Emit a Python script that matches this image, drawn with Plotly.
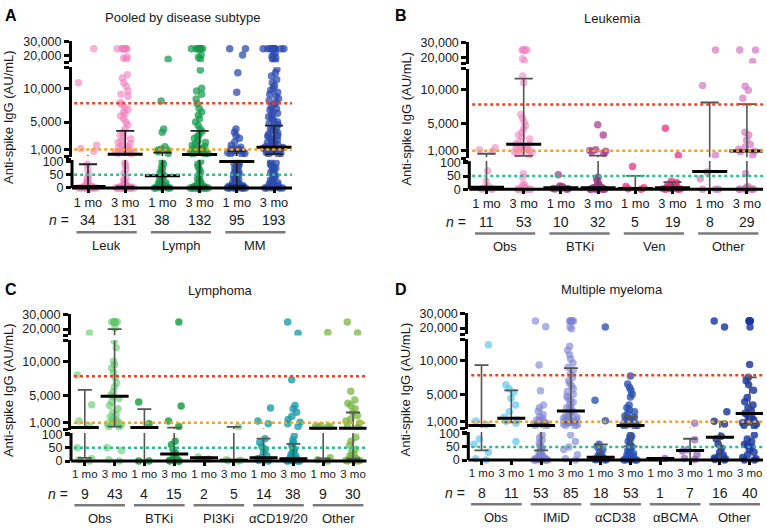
import plotly.graph_objects as go

W, H = 767, 529
FONT = "Liberation Sans, Arial, sans-serif"

# ---------------- Panel A: pooled by disease subtype ----------------
A_ticks = ["1 mo", "3 mo", "1 mo", "3 mo", "1 mo", "3 mo"]
A_n = [34, 131, 38, 132, 95, 193]
A_groups = ["Leuk", "Lymph", "MM"]
A_leuk_1 = [25000, 10800, 1600, 1100, 700, 90, 70, 50, 40, 30, 25, 20, 15, 10, 10, 8, 6, 5, 5, 4, 3, 3, 2, 2, 1, 1, 0, 0, 0, 0, 0, 0, 0, 0]
A_leuk_3 = [25000, 25000, 25000, 25000, 25000, 25000, 25000, 19300, 18500, 17700, 12000, 11500, 10800, 10300, 9600, 9100,
            8800, 7900, 7600, 7200, 6900, 6500, 6200, 5900, 5500, 5000, 4600, 4000, 3500, 3100, 2800, 2500, 2200, 2000,
            1800, 1600, 1400, 1200, 1100, 1000, 900, 800, 700, 600, 500, 400, 300, 95, 85, 70, 55, 40, 30, 25, 20, 15,
            12, 10, 8, 7, 6, 5, 5, 4, 4, 3, 3, 2, 2, 1, 1, 1, 0, 0, 0, 0, 0, 0, 0, 0, 0, 0]
A_lymph_1 = [17700, 8100, 4000, 3500, 1350, 1000, 900, 850, 620, 400, 100, 90, 80, 70, 60, 55, 50, 45, 40, 35, 30, 25,
             20, 18, 15, 12, 10, 8, 6, 5, 4, 3, 2, 1, 0, 0, 0, 0]
A_lymph_3 = [25000, 25000, 25000, 25000, 25000, 25000, 25000, 25000, 20700, 19000, 17700, 12700, 10000, 9600, 9100, 8400,
             7700, 7000, 6500, 6000, 5500, 5000, 4500, 4000, 3600, 3200, 2900, 2600, 2300, 2000, 1800, 1600, 1400, 1200,
             1100, 1000, 950, 900, 800, 700, 600, 500, 400, 300, 200, 100, 90, 80, 70, 60, 50, 40, 35, 30, 25, 20, 15,
             12, 10, 8, 6, 5, 4, 3, 2, 1, 0, 0, 0, 0, 0, 0, 0, 0, 0, 0]
A_mm_1 = [25000, 25000, 20700, 12300, 9400, 4000, 3500, 3000, 2600, 2100, 1600, 1300, 1100, 1000, 950, 900, 850, 800,
          700, 600, 500, 400, 300, 200, 100, 95, 90, 85, 80, 75, 70, 65, 60, 55, 50, 45, 40, 35, 30, 28, 25, 22, 20,
          18, 15, 12, 10, 10, 8, 8, 6, 5, 5, 4, 3, 2, 2, 1, 1, 0, 0, 0, 0, 0, 0]
A_mm_3 = [25000, 25000, 25000, 25000, 25000, 25000, 25000, 25000, 25000, 25000, 22000, 20700, 19500, 18500, 17500, 16500,
          12800, 12300, 11800, 11300, 10800, 10400, 10000, 9700, 9400, 9100, 8800, 8500, 8200, 7900, 7600, 7300, 7000,
          6800, 6500, 6300, 6000, 5800, 5500, 5300, 5000, 4800, 4600, 4400, 4200, 4000, 3800, 3600, 3400, 3200, 3000,
          2900, 2700, 2600, 2400, 2300, 2200, 2000, 1900, 1800, 1700, 1600, 1500, 1400, 1300, 1250, 1200, 1150, 1100,
          1050, 1000, 950, 900, 850, 800, 700, 600, 500, 400, 300, 200, 100, 95, 90, 85, 80, 75, 70, 65, 60, 55, 50,
          45, 40, 35, 30, 25, 20, 18, 15, 12, 10, 8, 6, 5, 4, 3, 2, 1, 0, 0, 0, 0]
A_colors = ["rgba(240,125,190,0.6)", "rgba(240,125,190,0.6)", "rgba(20,155,75,0.72)", "rgba(20,155,75,0.72)",
            "rgba(45,75,175,0.75)", "rgba(45,75,175,0.75)"]
A_median = [5, 273, 46, 230, 100, 1290]
A_q1 = [0, 5, 5, 5, 9, 273]
A_q3 = [90, 3720, 480, 3720, 710, 4490]

# ---------------- Panel B: leukemia ----------------
B_ticks = ["1 mo", "3 mo", "1 mo", "3 mo", "1 mo", "3 mo", "1 mo", "3 mo"]
B_n = [11, 53, 10, 32, 5, 19, 8, 29]
B_groups = ["Obs", "BTKi", "Ven", "Other"]
B_obs_1 = [1400, 1100, 900, 70, 30, 10, 5, 3, 2, 0, 0]
B_obs_3 = [25000, 25000, 25000, 25000, 25000, 25000, 19000, 17500, 12000, 11000, 6300, 5800, 5200, 4700, 4200, 3700,
           3300, 3000, 2700, 2300, 2000, 1900, 1700, 1500, 1400, 1300, 1200, 1100, 1000, 900, 800, 700, 500, 300, 60,
           45, 20, 15, 10, 8, 6, 5, 4, 3, 2, 1, 1, 0, 0, 0, 0, 0, 0]
B_btki_1 = [55, 12, 10, 8, 5, 4, 3, 2, 1, 0]
B_btki_3 = [4800, 3300, 1100, 1000, 900, 800, 600, 45, 40, 30, 20, 15, 12, 10, 8, 7, 6, 5, 5, 4, 4, 3, 3, 2, 2, 1, 1,
            0, 0, 0, 0, 0]
B_ven_1 = [86, 10, 5, 2, 0]
B_ven_3 = [4300, 250, 30, 25, 20, 15, 12, 10, 8, 6, 5, 5, 4, 3, 2, 2, 1, 0, 0]
B_other_1 = [25000, 10600, 300, 65, 40, 0, 0, 0]
B_other_3 = [25000, 25000, 17000, 10500, 9900, 8700, 3700, 3300, 2500, 1900, 1500, 1200, 900, 800, 300, 60, 10, 5, 4,
             3, 2, 2, 1, 1, 0, 0, 0, 0, 0]
B_colors = ["rgba(240,135,195,0.6)", "rgba(240,135,195,0.6)", "rgba(165,55,145,0.72)", "rgba(165,55,145,0.72)",
            "rgba(235,40,125,0.72)", "rgba(235,40,125,0.72)", "rgba(210,115,190,0.68)", "rgba(210,115,190,0.68)"]
B_median = [7, 1930, 5, 5, 3, 5, 67, 910]
B_q1 = [0, 190, 2, 0, 0, 0, 0, 0]
B_q3 = [520, 11600, 10, 230, 51, 27, 8080, 7830]

# ---------------- Panel C: lymphoma ----------------
C_ticks = ["1 mo", "3 mo", "1 mo", "3 mo", "1 mo", "3 mo", "1 mo", "3 mo", "1 mo", "3 mo"]
C_n = [9, 43, 4, 15, 2, 5, 14, 38, 9, 30]
C_groups = ["Obs", "BTKi", "PI3Ki", "αCD19/20", "Other"]
C_obs_1 = [17200, 8000, 3600, 1200, 500, 50, 10, 5, 0]
C_obs_3 = [25000, 25000, 25000, 25000, 25000, 25000, 25000, 25000, 20700, 13000, 12000, 10000, 9500, 9000, 8400, 7600,
           6800, 6200, 5500, 5000, 4800, 4500, 4000, 3500, 3000, 2500, 2100, 1800, 1500, 1300, 1100, 1000, 900, 800,
           600, 400, 300, 50, 40, 5, 0]
C_btki_1 = [4000, 800, 0, 0]
C_btki_3 = [25000, 3400, 1200, 400, 75, 62, 45, 30, 20, 10, 5, 3, 0, 0, 0]
C_pi3k_1 = [15, 8]
C_pi3k_3 = [330, 5, 3, 1, 0]
C_cd_1 = [3100, 1200, 800, 85, 70, 55, 45, 35, 20, 15, 10, 5, 2, 0]
C_cd_3 = [25000, 17000, 7300, 3500, 3000, 2500, 1900, 1400, 1000, 800, 400, 95, 80, 70, 60, 50, 45, 40, 35, 30, 25, 20,
          18, 15, 12, 10, 8, 6, 5, 4, 3, 2, 2, 1, 1, 0, 0, 0]
C_other_1 = [17500, 500, 450, 400, 350, 300, 12, 5, 0]
C_other_3 = [25000, 17200, 5600, 4300, 3800, 3500, 3000, 2500, 2000, 1500, 1200, 900, 500, 250, 90, 75, 60, 45, 35, 25,
             20, 15, 12, 10, 8, 5, 3, 2, 0, 0]
C_colors = ["rgba(95,200,105,0.6)", "rgba(95,200,105,0.6)", "rgba(20,160,60,0.82)", "rgba(20,160,60,0.82)",
            "rgba(120,200,105,0.65)", "rgba(120,200,105,0.65)", "rgba(20,155,165,0.78)", "rgba(20,155,165,0.78)",
            "rgba(115,180,60,0.72)", "rgba(115,180,60,0.72)"]
C_median = [230, 4840, 230, 27, 12, 3, 12, 9, 130, 130]
C_q1 = [12, 375, 0, 0, 8, 0, 0, 0, 10, 9]
C_q3 = [5800, 20000, 2950, 230, 15, 330, 85, 65, 130, 2450]

# ---------------- Panel D: multiple myeloma ----------------
D_ticks = ["1 mo", "3 mo", "1 mo", "3 mo", "1 mo", "3 mo", "1 mo", "3 mo", "1 mo", "3 mo"]
D_n = [8, 11, 53, 85, 18, 53, 1, 7, 16, 40]
D_groups = ["Obs", "IMiD", "αCD38", "αBCMA", "Other"]
D_obs_1 = [12300, 1050, 500, 80, 60, 30, 5, 0]
D_obs_3 = [6400, 5800, 5300, 4400, 3400, 2400, 1600, 1200, 1000, 700, 70]
D_imid_1 = [25000, 21000, 9300, 5500, 3400, 3000, 2500, 2000, 1700, 1400, 1200, 1100, 1000, 900, 800, 700, 600, 500,
            400, 300, 95, 85, 75, 65, 55, 50, 45, 40, 35, 30, 25, 20, 18, 15, 12, 10, 10, 8, 8, 6, 5, 5, 4, 3, 3, 2,
            2, 1, 1, 0, 0, 0, 0]
D_imid_3 = [25000, 25000, 25000, 25000, 25000, 25000, 20700, 19500, 12100, 11500, 10800, 10200, 9600, 9000, 8500, 8000,
            7500, 7000, 6600, 6200, 5800, 5400, 5000, 4700, 4400, 4100, 3800, 3500, 3200, 3000, 2800, 2600, 2400, 2200,
            2000, 1800, 1700, 1600, 1500, 1400, 1300, 1200, 1100, 1000, 950, 900, 850, 800, 700, 600, 500, 400, 300,
            95, 70, 50, 40, 20, 5, 0]
D_cd38_1 = [20700, 4100, 1100, 60, 50, 40, 30, 20, 15, 12, 10, 8, 5, 4, 3, 2, 1, 0]
D_cd38_3 = [7700, 6500, 6000, 5600, 5000, 4600, 3400, 3000, 2700, 2400, 2100, 1800, 1600, 1400, 1200, 1100, 1000, 900,
            800, 700, 600, 500, 400, 300, 200, 95, 90, 85, 80, 70, 60, 55, 50, 45, 40, 35, 30, 25, 20, 18, 15, 12, 10,
            8, 6, 5, 4, 3, 2, 1, 0, 0, 0]
D_bcma_1 = [6]
D_bcma_3 = [700, 77, 40, 34, 20, 6, 2]
D_other_1 = [25000, 20700, 2400, 1000, 600, 90, 80, 60, 45, 30, 20, 12, 8, 5, 2, 0]
D_other_3 = [25000, 25000, 25000, 25000, 25000, 25000, 20700, 9400, 7500, 7000, 6400, 5600, 4500, 3900, 3400, 3000,
             2600, 2200, 1900, 1600, 1400, 1200, 1000, 800, 600, 400, 300, 95, 80, 70, 60, 55, 50, 40, 30, 20, 10, 5,
             0, 0]
D_colors = ["rgba(95,200,240,0.7)", "rgba(95,200,240,0.7)", "rgba(125,130,210,0.62)", "rgba(125,130,210,0.62)",
            "rgba(40,80,180,0.78)", "rgba(40,80,180,0.78)", "rgba(135,85,185,0.68)", "rgba(135,85,185,0.68)",
            "rgba(25,55,160,0.82)", "rgba(25,55,160,0.82)"]
D_median = [375, 1440, 375, 2510, 11, 375, 6, 36, 87, 2170]
D_q1 = [37, 860, 37, 860, 0, 52, 6, 2, 2, 480]
D_q3 = [9290, 5560, 710, 8850, 59, 1680, 6, 81, 960, 7500]

# reference thresholds
THRESH_RED = 7790
THRESH_ORANGE = 950
THRESH_GREEN = 50

# ---------------- geometry (pixels) ----------------
panels = [
    dict(letter="A", title="Pooled by disease subtype", xl=72, xr=292, c0=88, dx=37.2, base=184.7, lx=3, ly=10,
         tx=182, ticks=A_ticks, n=A_n, groups=A_groups, colors=A_colors, med=A_median, q1=A_q1, q3=A_q3,
         values=[A_leuk_1, A_leuk_3, A_lymph_1, A_lymph_3, A_mm_1, A_mm_3], tfs=12.8, err="#222222"),
    dict(letter="B", title="Leukemia", xl=469.3, xr=763, c0=486.5, dx=37.2, base=186, lx=393, ly=10,
         tx=612, ticks=B_ticks, n=B_n, groups=B_groups, colors=B_colors, med=B_median, q1=B_q1, q3=B_q3,
         values=[B_obs_1, B_obs_3, B_btki_1, B_btki_3, B_ven_1, B_ven_3, B_other_1, B_other_3], tfs=12.8,
         err="#555555"),
    dict(letter="C", title="Lymphoma", xl=71, xr=366.5, c0=84.8, dx=29.8, base=462, lx=3, ly=288,
         tx=220, ticks=C_ticks, n=C_n, groups=C_groups, colors=C_colors, med=C_median, q1=C_q1, q3=C_q3,
         values=[C_obs_1, C_obs_3, C_btki_1, C_btki_3, C_pi3k_1, C_pi3k_3, C_cd_1, C_cd_3, C_other_1, C_other_3],
         tfs=11.5, err="#555555"),
    dict(letter="D", title="Multiple myeloma", xl=468.3, xr=763, c0=481.5, dx=29.8, base=461, lx=393, ly=288,
         tx=612, ticks=D_ticks, n=D_n, groups=D_groups, colors=D_colors, med=D_median, q1=D_q1, q3=D_q3,
         values=[D_obs_1, D_obs_3, D_imid_1, D_imid_3, D_cd38_1, D_cd38_3, D_bcma_1, D_bcma_3, D_other_1, D_other_3],
         tfs=11.5, err="#555555"),
]

# broken-axis segments: (h_bottom, h_top, ref value, ref height, px per unit) in px above baseline
SEGS = [(-5, 28.5, 0, 0, 0.267), (31.5, 122.5, 1000, 39.3, 0.006878), (127.5, 149, 20000, 134, 0.00145)]


def seg_range(s):
    h0, h1, vref, href, k = SEGS[s]
    return [vref + (h0 - href) / k, vref + (h1 - href) / k]


RANGES = [seg_range(s) for s in range(3)]


def seg_of(v):
    if v <= 104:
        return 0
    if v <= 14000:
        return 1
    return 2


fig = go.Figure()
layout = dict(width=W, height=H, margin=dict(l=0, r=0, t=0, b=0), autosize=False, paper_bgcolor="white",
              plot_bgcolor="white", showlegend=False, boxmode="overlay",
              font=dict(family=FONT, color="#1a1a1a", size=13))
shapes, annotations = [], []

for p, P in enumerate(panels):
    xname = "x" if p == 0 else f"x{p + 1}"
    xkey = "xaxis" if p == 0 else f"xaxis{p + 1}"
    base = P["base"]
    ncat = len(P["ticks"])
    ynames = []
    for s in range(3):
        idx = 3 * p + s + 1
        yname = "y" if idx == 1 else f"y{idx}"
        ykey = "yaxis" if idx == 1 else f"yaxis{idx}"
        ynames.append(yname)
        h0, h1 = SEGS[s][0], SEGS[s][1]
        lo, hi = RANGES[s]
        if s == 0:
            tv, tt = [0, 50, 100, hi - 0.3], ["0", "50", "100", ""]
        elif s == 1:
            tv, tt = [lo + 15, 1000, 5000, 10000, hi - 15], ["", "1,000", "5,000", "10,000", ""]
        else:
            tv, tt = [lo + 30, 20000, 30000], ["", "20,000", "30,000"]
        layout[ykey] = dict(domain=[1 - (base - h0) / H, 1 - (base - h1) / H], range=[lo, hi], anchor=xname,
                            showgrid=False, zeroline=False, showline=(s > 0), linewidth=3, linecolor="black",
                            ticks="outside", ticklen=5, tickwidth=2.5, tickcolor="black", tickvals=tv, ticktext=tt,
                            tickfont=dict(size=12.5, color="#1a1a1a"), fixedrange=True)
    layout[xkey] = dict(domain=[P["xl"] / W, P["xr"] / W],
                        range=[(P["xl"] - P["c0"]) / P["dx"], (P["xr"] - P["c0"]) / P["dx"]],
                        anchor=ynames[0], showgrid=False, zeroline=False, showline=False, ticks="inside",
                        ticklen=5, tickwidth=2.5, tickcolor="black", tickvals=list(range(ncat)),
                        ticktext=P["ticks"], tickfont=dict(size=P["tfs"], color="#1a1a1a"), fixedrange=True)

    # points, split by segment
    for i, vals in enumerate(P["values"]):
        for s in range(3):
            sv = [v for v in vals if seg_of(v) == s]
            if not sv:
                continue
            fig.add_trace(go.Box(x=[i] * len(sv), y=sv, xaxis=xname, yaxis=ynames[s], boxpoints="all", jitter=1,
                                 pointpos=0, width=0.6, fillcolor="rgba(0,0,0,0)",
                                 line=dict(width=0, color="rgba(0,0,0,0)"),
                                 marker=dict(color=P["colors"][i], size=7.5, line=dict(width=0)),
                                 showlegend=False, hoverinfo="y"))

    # medians and IQR
    wide = P["dx"] > 33
    for s in range(3):
        lo, hi = RANGES[s]
        if s == 0:
            lo = 0
        lx, ly, cx, cy, mx, my = [], [], [], [], [], []
        for i in range(ncat):
            a, b = P["q1"][i], P["q3"][i]
            if a < hi and b > lo and b > a:
                lx += [i, i, None]
                ly += [max(a, lo), min(b, hi), None]
            for q in (a, b):
                if seg_of(q) == s:
                    cx.append(i)
                    cy.append(q)
            if seg_of(P["med"][i]) == s:
                mx.append(i)
                my.append(P["med"][i])
        if lx:
            fig.add_trace(go.Scatter(x=lx, y=ly, mode="lines", xaxis=xname, yaxis=ynames[s],
                                     line=dict(color=P["err"], width=1.6), showlegend=False, hoverinfo="skip"))
        if cx:
            fig.add_trace(go.Scatter(x=cx, y=cy, mode="markers", xaxis=xname, yaxis=ynames[s],
                                     marker=dict(symbol="line-ew", size=13 if wide else 10,
                                                 line=dict(color=P["err"], width=1.8)),
                                     showlegend=False, hoverinfo="skip"))
        if mx:
            fig.add_trace(go.Scatter(x=mx, y=my, mode="markers", xaxis=xname, yaxis=ynames[s],
                                     marker=dict(symbol="line-ew", size=25 if wide else 20,
                                                 line=dict(color="black", width=3)),
                                     showlegend=False, hoverinfo="skip"))

    # axis line of bottom segment and baseline
    shapes.append(dict(type="line", xref=f"{xname} domain", x0=0, x1=0, yref=ynames[0], y0=0, y1=RANGES[0][1],
                       line=dict(color="black", width=3), layer="above"))
    shapes.append(dict(type="line", xref=f"{xname} domain", x0=0, x1=1, yref=ynames[0], y0=0, y1=0,
                       line=dict(color="black", width=3), layer="above"))
    # reference lines
    for val, col, s in ((THRESH_RED, "#ec4027", 1), (THRESH_ORANGE, "#f7a21b", 1), (THRESH_GREEN, "#2fbb8c", 0)):
        shapes.append(dict(type="line", xref=f"{xname} domain", x0=0.01, x1=1, yref=ynames[s], y0=val, y1=val,
                           line=dict(color=col, width=2.5, dash="dot"), layer="above"))

    # group underlines and labels
    hw = 0.81 if wide else 0.85
    for g, name in enumerate(P["groups"]):
        c = 2 * g + 0.5
        shapes.append(dict(type="line", xref=xname, x0=c - hw, x1=c + hw, yref="paper",
                           y0=1 - (base + 45) / H, y1=1 - (base + 45) / H, line=dict(color="#7a7a7a", width=2.5)))
        annotations.append(dict(text=name, xref=xname, x=c, yref="paper", y=1 - (base + 58) / H, showarrow=False,
                                xanchor="center", yanchor="middle", font=dict(size=13)))
    for i, nv in enumerate(P["n"]):
        annotations.append(dict(text=str(nv), xref=xname, x=i, yref="paper", y=1 - (base + 33) / H,
                                showarrow=False, xanchor="center", yanchor="middle", font=dict(size=14)))
    annotations.append(dict(text="<i>n</i> =", xref="paper", x=(P["xl"] - 1) / W, yref="paper",
                            y=1 - (base + 33) / H, showarrow=False, xanchor="right", yanchor="middle",
                            font=dict(size=14)))
    # titles
    annotations.append(dict(text=P["title"], xref="paper", x=P["tx"] / W, yref="paper", y=1 - (base - 173) / H,
                            showarrow=False, xanchor="center", yanchor="middle", font=dict(size=13)))
    annotations.append(dict(text=f"<b>{P['letter']}</b>", xref="paper", x=P["lx"] / W, yref="paper",
                            y=1 - P["ly"] / H, showarrow=False, xanchor="left", yanchor="middle",
                            font=dict(size=16, color="black")))
    annotations.append(dict(text="Anti-spike IgG (AU/mL)", xref="paper", x=(P["xl"] - 63) / W, yref="paper",
                            y=1 - (base - 72) / H, showarrow=False, textangle=-90, xanchor="center",
                            yanchor="middle", font=dict(size=13)))

layout["shapes"] = shapes
layout["annotations"] = annotations
fig.update_layout(**layout)
fig.write_html("out.html", config={"displayModeBar": False},
               post_script="document.body.style.margin='0';document.body.style.padding='0';")
